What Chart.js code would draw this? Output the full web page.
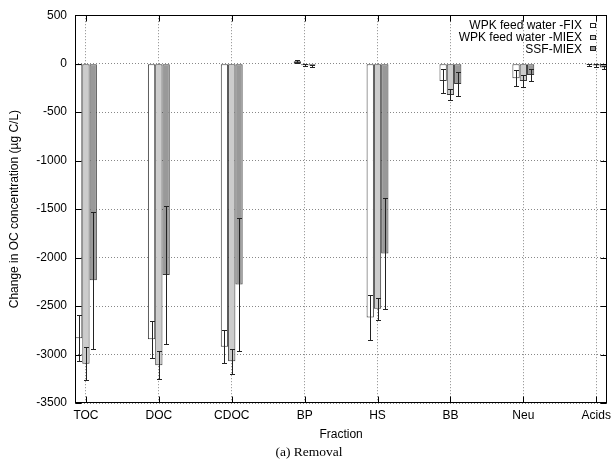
<!DOCTYPE html>
<html>
<head>
<meta charset="utf-8">
<script src="https://cdn.jsdelivr.net/npm/chart.js@4/dist/chart.umd.min.js"></script>
<style>
  html, body { margin: 0; padding: 0; background: #fff; }
  #wrap { width: 616px; height: 465px; position: relative; }
</style>
</head>
<body>
<div id="wrap"><canvas id="bar-chartcanvas"></canvas></div>
<script>
// categories
var fractions = ["TOC", "DOC", "CDOC", "BP", "HS", "BB", "Neu", "Acids"];

// series values (change in OC, ug C/L) and their error half-widths
var fixValues  = [-2832, -2843, -2919,  25, -2617, -178, -150, -10];
var fixErrors  = [  235,   190,   172,  15,   235,  120,   85,  10];
var miexValues = [-3094, -3110, -3069, -15, -2528, -322, -178, -18];
var miexErrors = [  168,   146,   127,  12,   115,   57,   60,  12];
var ssfValues  = [-2233, -2181, -2277, -20, -1958, -209, -116, -40];
var ssfErrors  = [  706,   710,   690,  10,   570,  122,   60,  18];

// y tick labels
var yTicks = [500, 0, -500, -1000, -1500, -2000, -2500, -3000, -3500];

var FONT = "'Liberation Sans', Arial, Helvetica, sans-serif";

function points(values) {
    return values.map(function (v, i) { return { x: i, y: v }; });
}

//error bars drawn over the bars
var errorBars = {
    id: "errorBars",
    afterDatasetsDraw: function (chart) {
        var ctx = chart.ctx;
        var y = chart.scales.y;
        ctx.save();
        ctx.strokeStyle = "#222";
        ctx.lineWidth = 1;
        chart.data.datasets.forEach(function (ds, di) {
            var meta = chart.getDatasetMeta(di);
            meta.data.forEach(function (bar, i) {
                var v = ds.data[i].y, e = ds.errors[i];
                var x = Math.round(bar.x) + 0.5;
                var y1 = Math.round(y.getPixelForValue(v + e)) + 0.5;
                var y2 = Math.round(y.getPixelForValue(v - e)) + 0.5;
                ctx.beginPath();
                ctx.moveTo(x, y1); ctx.lineTo(x, y2);
                ctx.moveTo(x - 2.5, y1); ctx.lineTo(x + 2.5, y1);
                ctx.moveTo(x - 2.5, y2); ctx.lineTo(x + 2.5, y2);
                ctx.stroke();
            });
        });
        ctx.restore();
    }
};

//frame, inward ticks, key and caption
var frame = {
    id: "frame",
    afterDraw: function (chart) {
        var ctx = chart.ctx;
        var a = chart.chartArea;
        var xs = chart.scales.x, ys = chart.scales.y;
        var l = Math.round(a.left) + 0.5, r = Math.round(a.right) - 0.5;
        var t = Math.round(a.top) + 0.5, b = Math.round(a.bottom) - 0.5;
        ctx.save();
        ctx.strokeStyle = "#000";
        ctx.lineWidth = 1;
        ctx.strokeRect(l, t, r - l, b - t);
        ctx.beginPath();
        yTicks.forEach(function (v) {
            var p = Math.round(ys.getPixelForValue(v)) + 0.5;
            ctx.moveTo(l, p); ctx.lineTo(l + 6, p);
            ctx.moveTo(r, p); ctx.lineTo(r - 6, p);
        });
        fractions.forEach(function (f, i) {
            var p = Math.round(xs.getPixelForValue(i)) + 0.5;
            ctx.moveTo(p, b); ctx.lineTo(p, b - 6);
            ctx.moveTo(p, t); ctx.lineTo(p, t + 6);
        });
        ctx.stroke();

        // key
        ctx.font = "12px " + FONT;
        ctx.textAlign = "right";
        ctx.textBaseline = "middle";
        chart.data.datasets.forEach(function (ds, i) {
            var ky = 26 + i * 11.6;
            ctx.fillStyle = "#000";
            ctx.fillText(ds.label, 582, ky);
            ctx.fillStyle = ds.backgroundColor;
            ctx.fillRect(590.5, Math.round(ky) - 2.5, 5, 4);
            ctx.strokeStyle = "#222";
            ctx.strokeRect(590.5, Math.round(ky) - 2.5, 5, 4);
        });

        // caption
        ctx.fillStyle = "#000";
        ctx.textAlign = "center";
        ctx.font = "13.5px 'Liberation Serif', 'Times New Roman', serif";
        ctx.fillText("(a) Removal", 309, 452);
        ctx.restore();
    }
};

var ctx = document.getElementById("bar-chartcanvas");

var data = {
    datasets: [
        {
            label: "WPK feed water -FIX",
            data: points(fixValues),
            errors: fixErrors,
            backgroundColor: "#ffffff"
        },
        {
            label: "WPK feed water -MIEX",
            data: points(miexValues),
            errors: miexErrors,
            backgroundColor: "#cccccc"
        },
        {
            label: "SSF-MIEX",
            data: points(ssfValues),
            errors: ssfErrors,
            backgroundColor: "#999999"
        }
    ]
};
data.datasets.forEach(function (ds) {
    ds.borderColor = "#3a3a3a";
    ds.borderWidth = 1;
    ds.borderSkipped = false;
    ds.categoryPercentage = 0.3;
    ds.barPercentage = 1;
});

var options = {
    responsive: true,
    maintainAspectRatio: false,
    animation: false,
    layout: { padding: { top: 14, right: 5, left: 0, bottom: 0 } },
    plugins: {
        legend: { display: false },
        tooltip: { enabled: false }
    },
    scales: {
        x: {
            type: "linear",
            min: -0.15,
            max: 7.15,
            offset: false,
            afterFit: function (s) { s.height = 62; },
            afterBuildTicks: function (s) {
                s.ticks = fractions.map(function (f, i) { return { value: i }; });
            },
            ticks: {
                autoSkip: false,
                maxRotation: 0,
                padding: 5,
                color: "#000",
                font: { family: FONT, size: 12 },
                callback: function (v) { return fractions[v]; }
            },
            grid: { color: "#888", lineWidth: 1, drawTicks: false, offset: false },
            border: { display: false, dash: [1, 2] },
            title: {
                display: true,
                text: "Fraction",
                color: "#000",
                font: { family: FONT, size: 12 },
                padding: { top: 0, bottom: 23 }
            }
        },
        y: {
            min: -3500,
            max: 500,
            afterFit: function (s) { s.width = 75; },
            afterBuildTicks: function (s) {
                s.ticks = yTicks.map(function (v) { return { value: v }; });
            },
            ticks: {
                padding: 8,
                color: "#000",
                font: { family: FONT, size: 12 },
                callback: function (v) { return String(v); }
            },
            grid: { color: "#888", lineWidth: 1, drawTicks: false },
            border: { display: false, dash: [1, 2] },
            title: {
                display: true,
                text: "Change in OC concentration (\u00b5g C/L)",
                color: "#000",
                font: { family: FONT, size: 12 },
                padding: { top: 7, bottom: 0 }
            }
        }
    }
};

var chart = new Chart(ctx, {
    type: "bar",
    data: data,
    options: options,
    plugins: [errorBars, frame]
});
</script>
</body>
</html>
